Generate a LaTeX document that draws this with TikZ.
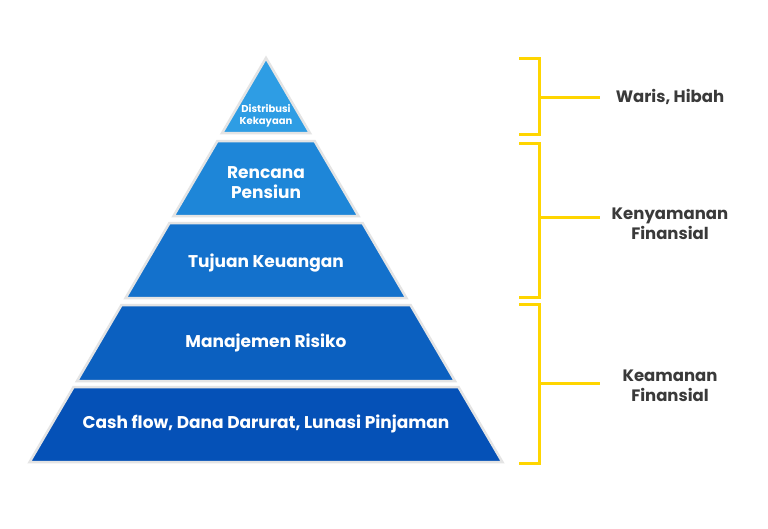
\documentclass[tikz,border=0pt]{standalone}
\usepackage{fontspec}
\setmainfont{Poppins}
\definecolor{cA}{HTML}{2E9DE4}
\definecolor{cB}{HTML}{1E86D8}
\definecolor{cC}{HTML}{1371CC}
\definecolor{cD}{HTML}{0B60C0}
\definecolor{cE}{HTML}{0551B7}
\definecolor{edge}{HTML}{E4E4E4}
\definecolor{brk}{HTML}{FFD500}
\definecolor{lab}{HTML}{3A3A3A}
\tikzset{
  layer/.style={draw=edge, line width=2.5pt, line join=miter},
  intext/.style={text=white, font=\bfseries\fontsize{17}{20}\selectfont, align=center, inner sep=0pt},
  smalltext/.style={text=white, font=\bfseries\fontsize{10}{12.5}\selectfont, align=center, inner sep=0pt},
  sidetext/.style={text=lab, font=\bfseries\fontsize{16.5}{20}\selectfont, align=center, inner sep=0pt},
  bracket/.style={draw=brk, line width=3pt},
}
\begin{document}
\begin{tikzpicture}[x=1pt,y=-1pt]
\useasboundingbox[fill=white] (0,0) rectangle (768,528);
\def\cx{266}
\def\sl{0.585}
\def\ay{58}
% layers
\fill[cA, layer] (\cx,\ay) -- ({\cx+\sl*(133-\ay)},133) -- ({\cx-\sl*(133-\ay)},133) -- cycle;
\foreach \t/\b/\c in {141/216/cB, 223/298/cC, 305/381/cD, 387/462/cE}{
  \fill[\c, layer] ({\cx-\sl*(\t-\ay)},\t) -- ({\cx+\sl*(\t-\ay)},\t) -- ({\cx+\sl*(\b-\ay)},\b) -- ({\cx-\sl*(\b-\ay)},\b) -- cycle;
}
\node[smalltext] (l1) at (\cx,116) {Distribusi\\Kekayaan};
\node[intext] (l2) at (\cx,183) {Rencana\\Pensiun};
\node[intext] (l3) at (\cx,263) {Tujuan Keuangan};
\node[intext] (l4) at (\cx,343) {Manajemen Risiko};
\node[intext] (l5) at (\cx,424) {Cash flow, Dana Darurat, Lunasi Pinjaman};
% brackets
\draw[bracket] (519,58) -- (539,58) -- (539,134) -- (519,134);
\draw[bracket] (539,97) -- (600,97);
\draw[bracket] (519,143) -- (539,143) -- (539,297) -- (519,297);
\draw[bracket] (539,217) -- (600,217);
\draw[bracket] (519,304) -- (539,304) -- (539,463) -- (519,463);
\draw[bracket] (539,383) -- (600,383);
\node[sidetext] (s1) at (670,97) {Waris, Hibah};
\node[sidetext] (s2) at (670,224) {Kenyamanan\\Finansial};
\node[sidetext] (s3) at (670,386) {Keamanan\\Finansial};
\end{tikzpicture}
\end{document}
